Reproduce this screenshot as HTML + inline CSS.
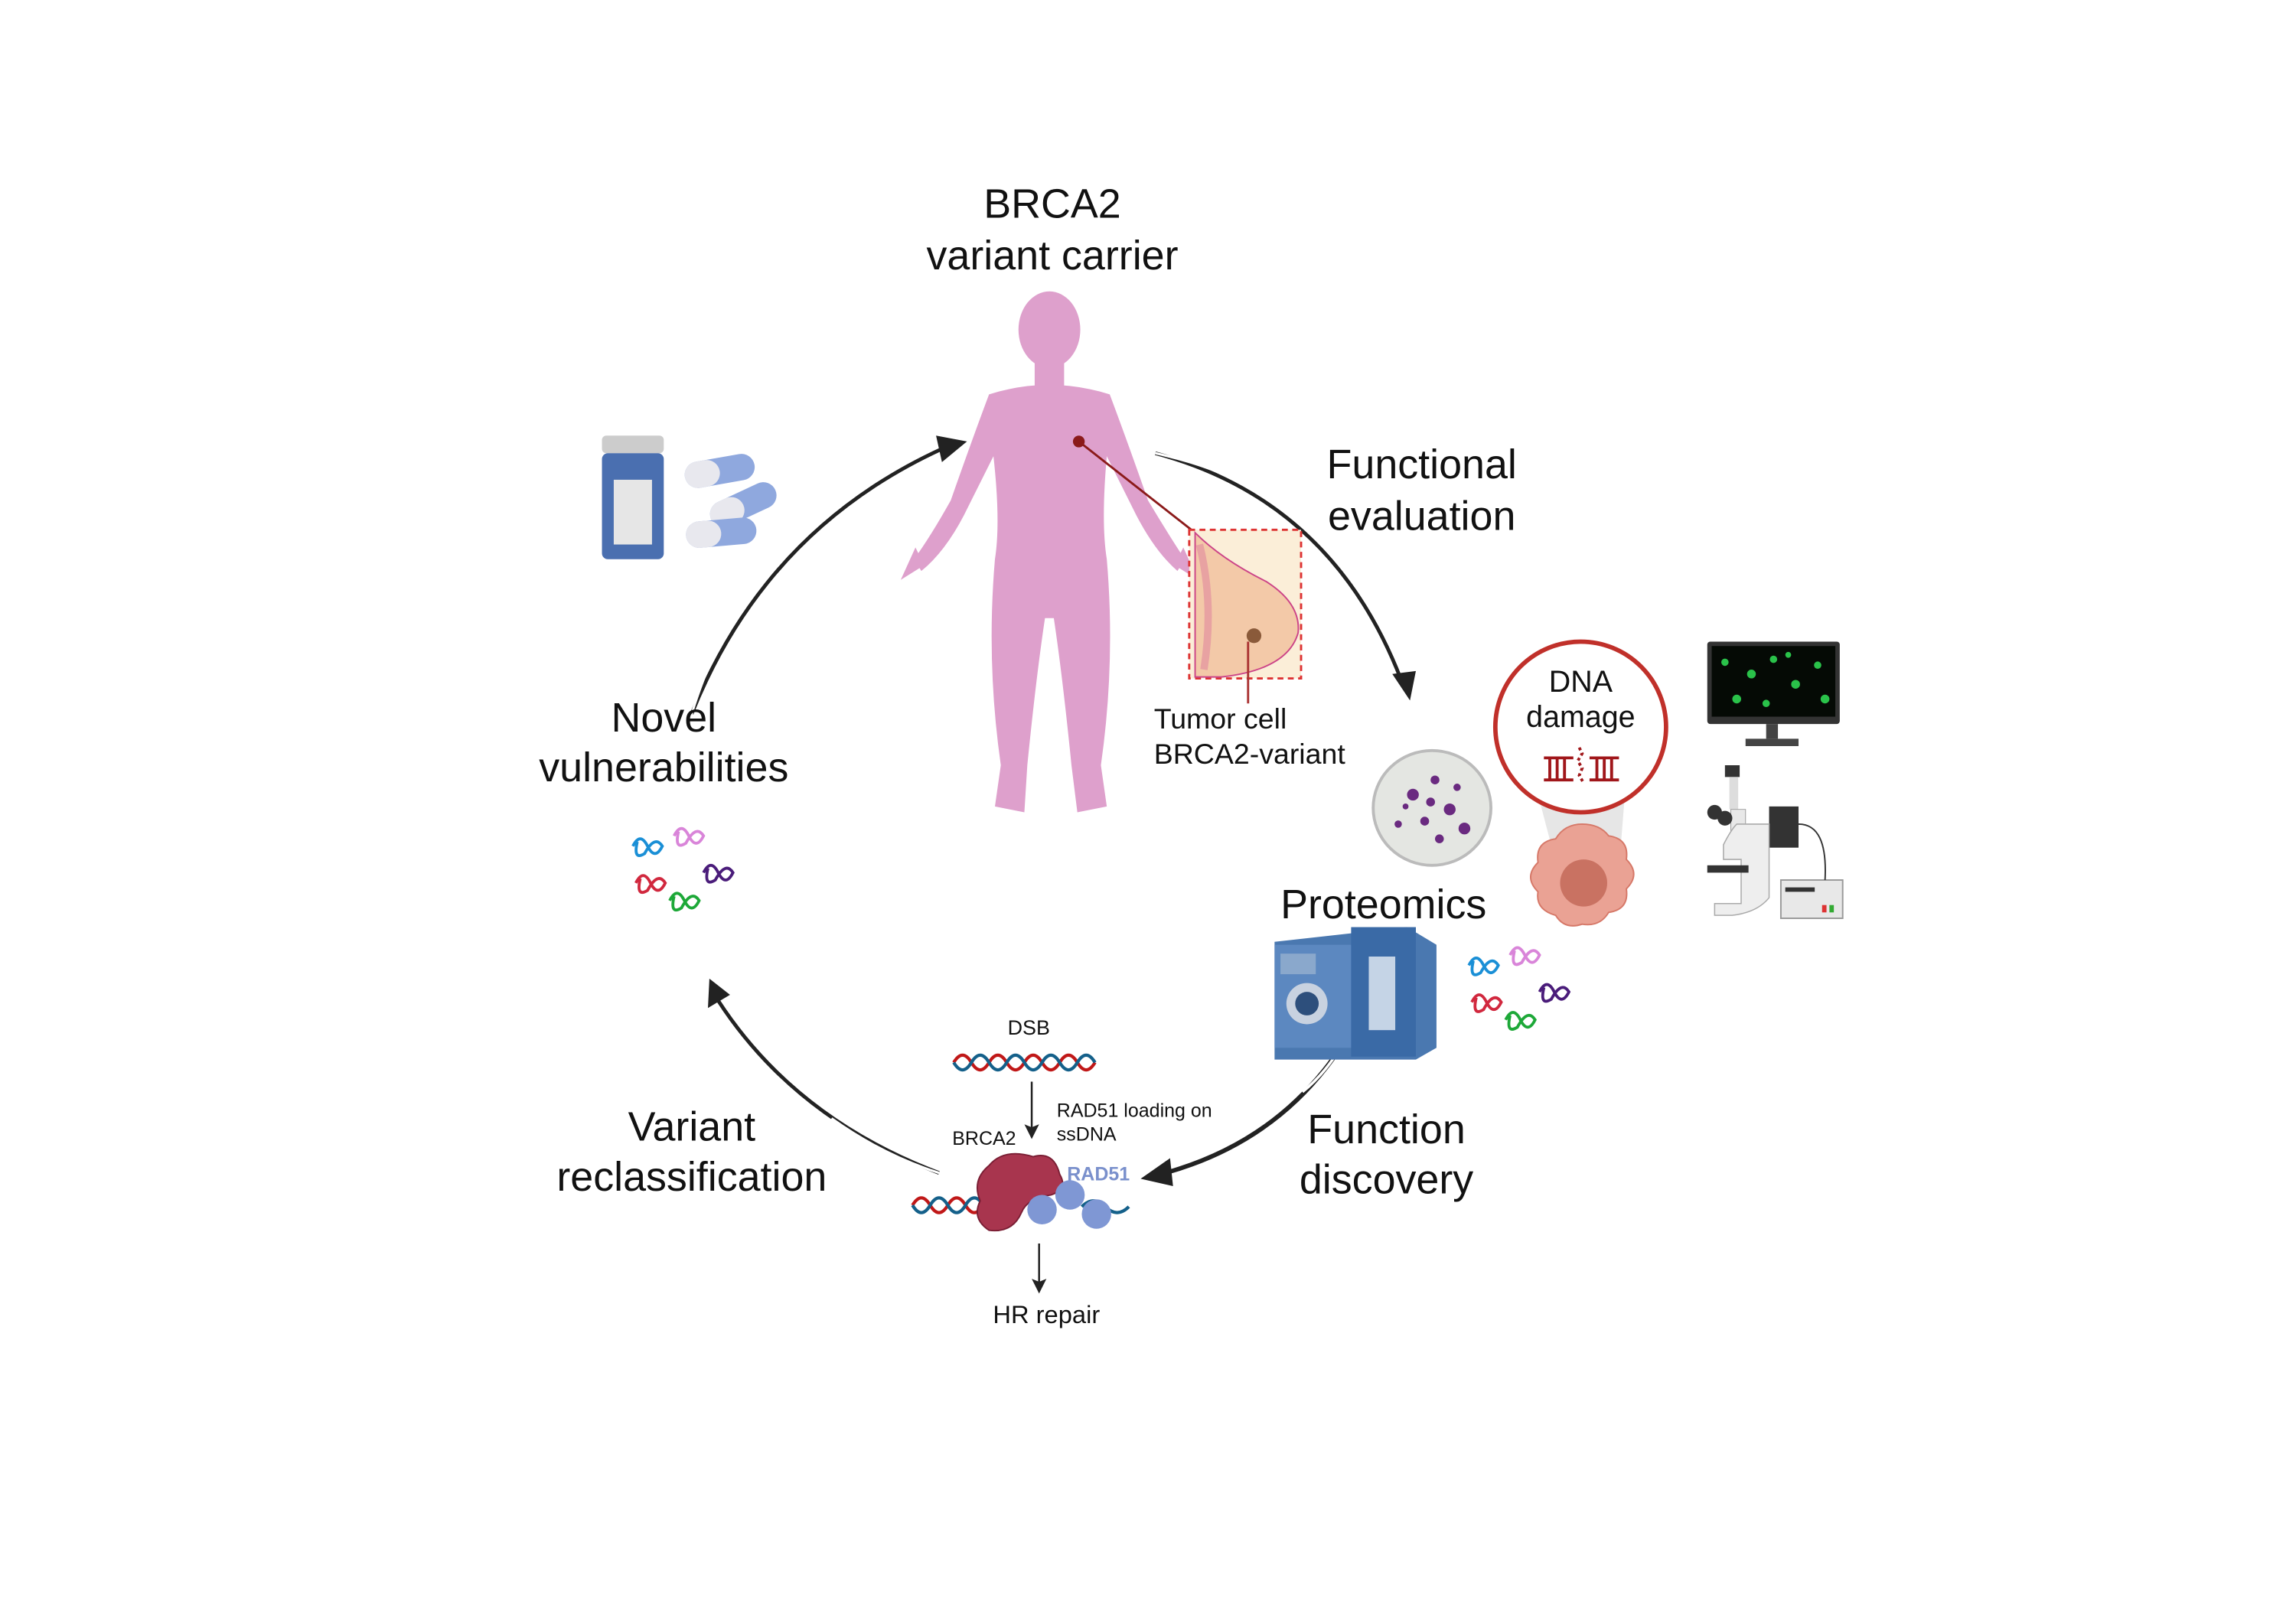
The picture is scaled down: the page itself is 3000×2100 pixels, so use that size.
<!DOCTYPE html>
<html><head><meta charset="utf-8"><style>
html,body{margin:0;padding:0;background:#fff;}
svg{display:block;}
text{font-family:"Liberation Sans",sans-serif;fill:#111;}
</style></head><body>
<svg width="3000" height="2100" viewBox="0 0 1560 1092" xmlns="http://www.w3.org/2000/svg">
<defs>
<marker id="ah" markerWidth="10" markerHeight="10" refX="6" refY="5" orient="auto" markerUnits="userSpaceOnUse" viewBox="0 0 10 10"><path d="M0,0 L10,5 L0,10 L2,5 Z" fill="#222"/></marker>
</defs>
<rect width="1560" height="1092" fill="#fff"/>

<path d="M470,485 Q520,360 640,305" fill="none" stroke="#222" stroke-width="2.5"/>
<path d="M470,485 Q490,420 530,375" fill="none" stroke="#fff" stroke-width="1.6"/>
<polygon points="657,300 636,296 640,314" fill="#222"/>
<path d="M785,308 Q905,340 952,462" fill="none" stroke="#222" stroke-width="2.5"/>
<path d="M785,308 Q840,320 870,345" fill="none" stroke="#fff" stroke-width="1.6"/>
<polygon points="958,476 946,458 962,456" fill="#222"/>
<path d="M912,710 Q870,775 792,797" fill="none" stroke="#222" stroke-width="3"/>
<path d="M912,710 Q900,730 885,742" fill="none" stroke="#fff" stroke-width="1.8"/>
<polygon points="775,801 795,787 797,806" fill="#222"/>
<path d="M638,797 Q540,760 488,680" fill="none" stroke="#222" stroke-width="2.5"/>
<path d="M638,797 Q600,785 565,760" fill="none" stroke="#fff" stroke-width="1.6"/>
<polygon points="482,665 481,685 496,676" fill="#222"/>

<text x="715" y="148" font-size="28" text-anchor="middle">BRCA2</text>
<text x="715" y="183" font-size="28" text-anchor="middle">variant carrier</text>
<text x="966" y="325" font-size="28" text-anchor="middle">Functional</text>
<text x="966" y="360" font-size="28" text-anchor="middle">evaluation</text>
<text x="451" y="497" font-size="28" text-anchor="middle">Novel</text>
<text x="451" y="531" font-size="28" text-anchor="middle">vulnerabilities</text>
<text x="940" y="624" font-size="28" text-anchor="middle">Proteomics</text>
<text x="942" y="777" font-size="28" text-anchor="middle">Function</text>
<text x="942" y="811" font-size="28" text-anchor="middle">discovery</text>
<text x="470" y="775" font-size="28" text-anchor="middle">Variant</text>
<text x="470" y="809" font-size="28" text-anchor="middle">reclassification</text>
<text x="784" y="495" font-size="19.5">Tumor cell</text>
<text x="784" y="519" font-size="19.5">BRCA2-variant</text>

<g fill="#dea0cc">
<ellipse cx="713" cy="224" rx="21" ry="26"/>
<path d="M703,245 h20 v18 h-20z"/>
<path d="M672,268 Q713,255 754,268 Q766,300 780,340 Q795,365 805,380 L800,388 Q785,375 772,350 L752,310 Q748,355 752,380 Q758,450 748,520 L752,548 L732,552 L728,520 Q722,460 716,420 L710,420 Q704,460 698,520 L696,552 L676,548 L680,520 Q670,450 676,380 Q680,355 675,310 L655,350 Q642,375 626,388 L621,380 Q632,365 646,340 Q660,300 672,268Z"/>
<path d="M622,372 l-10,22 l16,-10z M804,372 l10,22 l-16,-10z"/>
</g>
<circle cx="733" cy="300" r="4" fill="#8b1a1a"/>
<line x1="733" y1="300" x2="812" y2="362" stroke="#8b1a1a" stroke-width="1.5"/>
<rect x="808" y="360" width="76" height="101" fill="#fbeed8" stroke="#d33" stroke-width="1.5" stroke-dasharray="4,3"/>
<path d="M812,362 Q830,380 860,395 Q884,410 882,430 Q875,455 830,460 L812,460Z" fill="#f3c9a8" stroke="#c48" stroke-width="1"/>
<path d="M815,370 Q825,410 818,455" fill="none" stroke="#e8a2a2" stroke-width="5"/>
<circle cx="852" cy="432" r="5" fill="#8a5a3a"/>
<line x1="848" y1="436" x2="848" y2="478" stroke="#a33" stroke-width="1.5"/>

<rect x="409" y="296" width="42" height="12" rx="3" fill="#ccc"/>
<rect x="409" y="308" width="42" height="72" rx="4" fill="#4a6fb0"/>
<rect x="417" y="326" width="26" height="44" fill="#e6e6e6"/>
<g transform="rotate(-10 489 320)"><rect x="465" y="311" width="48" height="18" rx="9" fill="#8fa8de"/><rect x="465" y="311" width="24" height="18" rx="9" fill="#e8e8ee"/></g>
<g transform="rotate(-25 505 343)"><rect x="481" y="334" width="48" height="18" rx="9" fill="#8fa8de"/><rect x="481" y="334" width="24" height="18" rx="9" fill="#e8e8ee"/></g>
<g transform="rotate(-5 490 362)"><rect x="466" y="353" width="48" height="18" rx="9" fill="#8fa8de"/><rect x="466" y="353" width="24" height="18" rx="9" fill="#e8e8ee"/></g>

<g fill="none" stroke-width="2">
<path d="M430,575 q5,-10 10,0 q5,10 10,0 q-5,-8 -12,5 q-8,5 -5,-8" stroke="#1a8fd6"/>
<path d="M458,568 q5,-10 10,0 q5,10 10,0 q-5,-8 -12,5 q-8,5 -5,-8" stroke="#d985d9"/>
<path d="M478,593 q5,-10 10,0 q5,10 10,0 q-5,-8 -12,5 q-8,5 -5,-8" stroke="#4a1c7a"/>
<path d="M432,600 q5,-10 10,0 q5,10 10,0 q-5,-8 -12,5 q-8,5 -5,-8" stroke="#d1283e"/>
<path d="M455,612 q5,-10 10,0 q5,10 10,0 q-5,-8 -12,5 q-8,5 -5,-8" stroke="#1da838"/>
</g>
<g fill="none" stroke-width="2" transform="translate(568,81)">
<path d="M430,575 q5,-10 10,0 q5,10 10,0 q-5,-8 -12,5 q-8,5 -5,-8" stroke="#1a8fd6"/>
<path d="M458,568 q5,-10 10,0 q5,10 10,0 q-5,-8 -12,5 q-8,5 -5,-8" stroke="#d985d9"/>
<path d="M478,593 q5,-10 10,0 q5,10 10,0 q-5,-8 -12,5 q-8,5 -5,-8" stroke="#4a1c7a"/>
<path d="M432,600 q5,-10 10,0 q5,10 10,0 q-5,-8 -12,5 q-8,5 -5,-8" stroke="#d1283e"/>
<path d="M455,612 q5,-10 10,0 q5,10 10,0 q-5,-8 -12,5 q-8,5 -5,-8" stroke="#1da838"/>
</g>

<ellipse cx="973" cy="549" rx="40" ry="39" fill="#e4e6e2" stroke="#bbb" stroke-width="2"/>
<g fill="#6a2a80">
<circle cx="960" cy="540" r="4"/><circle cx="975" cy="530" r="3"/><circle cx="985" cy="550" r="4"/><circle cx="968" cy="558" r="3"/><circle cx="995" cy="563" r="4"/><circle cx="950" cy="560" r="2.5"/><circle cx="978" cy="570" r="3"/><circle cx="990" cy="535" r="2.5"/><circle cx="955" cy="548" r="2"/><circle cx="972" cy="545" r="3"/>
</g>

<polygon points="1045,540 1104,540 1100,590 1062,605" fill="#e6e6e6"/>
<path d="M1075,560 q12,0 18,8 q14,2 12,16 q10,10 0,20 q2,14 -12,16 q-6,10 -18,8 q-12,4 -18,-6 q-14,-4 -12,-16 q-10,-10 0,-20 q-2,-14 12,-16 q6,-10 18,-10z" fill="#eaa294" stroke="#d67868" stroke-width="1"/>
<circle cx="1076" cy="600" r="16" fill="#c97262"/>
<circle cx="1074" cy="494" r="58" fill="#fff" stroke="#c0302a" stroke-width="3"/>
<text x="1074" y="470" font-size="20.5" text-anchor="middle">DNA</text>
<text x="1074" y="494" font-size="20.5" text-anchor="middle">damage</text>
<g stroke="#a0161a" stroke-width="2" fill="none">
<path d="M1049,515 h20 M1080,515 h20 M1049,530 h20 M1080,530 h20"/>
<path d="M1053,515 v15 M1058,515 v15 M1063,515 v15 M1085,515 v15 M1090,515 v15 M1095,515 v15"/>
<path d="M1073,508 l2,4 l-3,5 l3,5 l-2,5 l3,5" stroke-dasharray="2,2"/>
</g>

<rect x="1160" y="436" width="90" height="56" rx="2" fill="#333"/>
<rect x="1163" y="439" width="84" height="48" fill="#050a05"/>
<g fill="#2ac24a"><circle cx="1172" cy="450" r="2.5"/><circle cx="1190" cy="458" r="3"/><circle cx="1205" cy="448" r="2.5"/><circle cx="1220" cy="465" r="3"/><circle cx="1235" cy="452" r="2.5"/><circle cx="1180" cy="475" r="3"/><circle cx="1200" cy="478" r="2.5"/><circle cx="1240" cy="475" r="3"/><circle cx="1215" cy="445" r="2"/></g>
<rect x="1200" y="492" width="8" height="10" fill="#444"/><rect x="1186" y="502" width="36" height="5" fill="#444"/>

<rect x="1172" y="520" width="10" height="8" fill="#333"/>
<rect x="1175" y="528" width="6" height="22" fill="#ddd"/>
<path d="M1176,550 h10 v22 h-10z" fill="#e8e8e8" stroke="#999" stroke-width="0.5"/>
<circle cx="1165" cy="552" r="5" fill="#333"/><circle cx="1172" cy="556" r="5" fill="#333"/>
<rect x="1202" y="548" width="20" height="28" fill="#333"/>
<path d="M1180,560 h22 v50 q-8,10 -25,12 h-12 v-8 h18 v-30 h-12 v-10 q5,-10 9,-14z" fill="#eee" stroke="#aaa" stroke-width="0.8"/>
<rect x="1160" y="588" width="28" height="5" fill="#333"/>
<rect x="1210" y="598" width="42" height="26" fill="#e8e8e8" stroke="#999" stroke-width="1"/>
<rect x="1213" y="603" width="20" height="3" fill="#333"/>
<rect x="1238" y="615" width="3" height="5" fill="#d33"/><rect x="1243" y="615" width="3" height="5" fill="#3a3"/>
<path d="M1222,560 q20,0 18,38" fill="none" stroke="#333" stroke-width="1"/>

<path d="M866,640 l90,-10 l20,12 v70 l-14,8 h-96z" fill="#4a78b0"/>
<rect x="866" y="642" width="90" height="70" fill="#5c88c0"/>
<rect x="918" y="630" width="44" height="88" fill="#3a6aa6"/>
<rect x="930" y="650" width="18" height="50" fill="#c5d4e6"/>
<circle cx="888" cy="682" r="14" fill="#c8d2e0"/><circle cx="888" cy="682" r="8" fill="#2d4f7c"/>
<rect x="870" y="648" width="24" height="14" fill="#8aa8cc"/>

<text x="699" y="703" font-size="14" text-anchor="middle">DSB</text>
<g fill="none" stroke-width="2.2">
<path d="M648,722 q6,-10 12,0 t12,0 t12,0 t12,0 t12,0 t12,0 t12,0 t12,0" stroke="#c01818"/>
<path d="M648,722 q6,10 12,0 t12,0 t12,0 t12,0 t12,0 t12,0 t12,0 t12,0" stroke="#14608a"/>
<path d="M620,819 q6,-10 12,0 t12,0 t12,0 t12,0" stroke="#c01818"/>
<path d="M620,819 q6,10 12,0 t12,0 t12,0 t12,0" stroke="#14608a"/>
<path d="M735,820 q8,-8 16,0 t16,0" stroke="#14608a"/>
</g>
<line x1="701" y1="735" x2="701" y2="770" stroke="#222" stroke-width="1.3" marker-end="url(#ah)"/>
<text x="718" y="759" font-size="13">RAD51 loading on</text>
<text x="718" y="775" font-size="13">ssDNA</text>
<text x="647" y="778" font-size="13">BRCA2</text>
<path d="M672,792 q10,-12 30,-6 q14,-4 18,12 q6,10 -6,14 q-16,2 -20,12 q-6,14 -22,12 q-12,-8 -6,-20 q-6,-14 6,-24z" fill="#a8354e" stroke="#7a1e34" stroke-width="1"/>
<text x="725" y="802" font-size="13" font-weight="bold" style="fill:#7a90cc">RAD51</text>
<g fill="#7f97d4"><circle cx="708" cy="822" r="10"/><circle cx="727" cy="812" r="10"/><circle cx="745" cy="825" r="10"/></g>
<line x1="706" y1="845" x2="706" y2="875" stroke="#222" stroke-width="1.3" marker-end="url(#ah)"/>
<text x="711" y="899" font-size="17" text-anchor="middle">HR repair</text>
</svg>
</body></html>
